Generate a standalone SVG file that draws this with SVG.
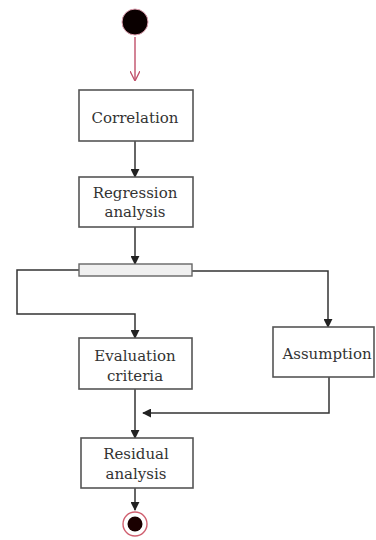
<svg xmlns="http://www.w3.org/2000/svg" width="376" height="540" viewBox="0 0 376 540">
  <style>
    .box { fill: #ffffff; stroke: #555555; stroke-width: 1.6; }
    .bar { fill: #f0f0f0; stroke: #666666; stroke-width: 1.4; }
    .lbl { font-family: "DejaVu Serif", "Liberation Serif", serif; font-size: 15px; fill: #333333; text-anchor: middle; }
    .flow { fill: none; stroke: #333333; stroke-width: 1.5; }
    .init { fill: none; stroke: #c0506a; stroke-width: 1.4; }
  </style>
  <defs>
    <marker id="tri" viewBox="0 0 10 10" refX="9" refY="5" markerWidth="9" markerHeight="9" orient="auto" markerUnits="userSpaceOnUse">
      <path d="M0,0 L10,5 L0,10 z" fill="#222222"/>
    </marker>
    <marker id="vee" viewBox="0 0 10 10" refX="9" refY="5" markerWidth="10" markerHeight="10" orient="auto" markerUnits="userSpaceOnUse">
      <path d="M0,0 L10,5 L0,10" fill="none" stroke="#c0506a" stroke-width="1.3"/>
    </marker>
  </defs>

  <rect width="376" height="540" fill="#ffffff"/>

  <g id="connectors">
    <line class="init" x1="135" y1="37" x2="135" y2="80" marker-end="url(#vee)"/>
    <line class="flow" x1="135" y1="141" x2="135" y2="177" marker-end="url(#tri)"/>
    <line class="flow" x1="135" y1="227" x2="135" y2="264" marker-end="url(#tri)"/>
    <polyline class="flow" points="79,270 17,270 17,314 135,314 135,338" marker-end="url(#tri)"/>
    <polyline class="flow" points="192,271 328,271 328,327" marker-end="url(#tri)"/>
    <line class="flow" x1="135" y1="389" x2="135" y2="438" marker-end="url(#tri)"/>
    <polyline class="flow" points="329,377 329,413 143,413" marker-end="url(#tri)"/>
    <line class="flow" x1="135" y1="488" x2="135" y2="510" marker-end="url(#tri)"/>
  </g>

  <g id="start">
    <circle cx="135" cy="22" r="13" fill="#0a0000" stroke="#e0a0b0" stroke-width="1"/>
  </g>

  <g id="correlation">
    <rect class="box" x="79" y="90" width="114" height="51"/>
    <text class="lbl" x="135" y="123">Correlation</text>
  </g>

  <g id="regression">
    <rect class="box" x="79" y="177" width="114" height="50"/>
    <text class="lbl" x="135" y="198">Regression</text>
    <text class="lbl" x="135" y="217">analysis</text>
  </g>

  <g id="fork">
    <rect class="bar" x="79" y="264" width="113" height="12"/>
  </g>

  <g id="evaluation">
    <rect class="box" x="79" y="338" width="113" height="51"/>
    <text class="lbl" x="135" y="361">Evaluation</text>
    <text class="lbl" x="135" y="381">criteria</text>
  </g>

  <g id="assumption">
    <rect class="box" x="273" y="327" width="101" height="50"/>
    <text class="lbl" x="327" y="359">Assumption</text>
  </g>

  <g id="residual">
    <rect class="box" x="81" y="438" width="112" height="50"/>
    <text class="lbl" x="136" y="459">Residual</text>
    <text class="lbl" x="136" y="479">analysis</text>
  </g>

  <g id="end">
    <circle cx="135" cy="524" r="12" fill="#ffffff" stroke="#d06070" stroke-width="1.4"/>
    <circle cx="135" cy="524" r="7.5" fill="#1a0000"/>
  </g>
</svg>
